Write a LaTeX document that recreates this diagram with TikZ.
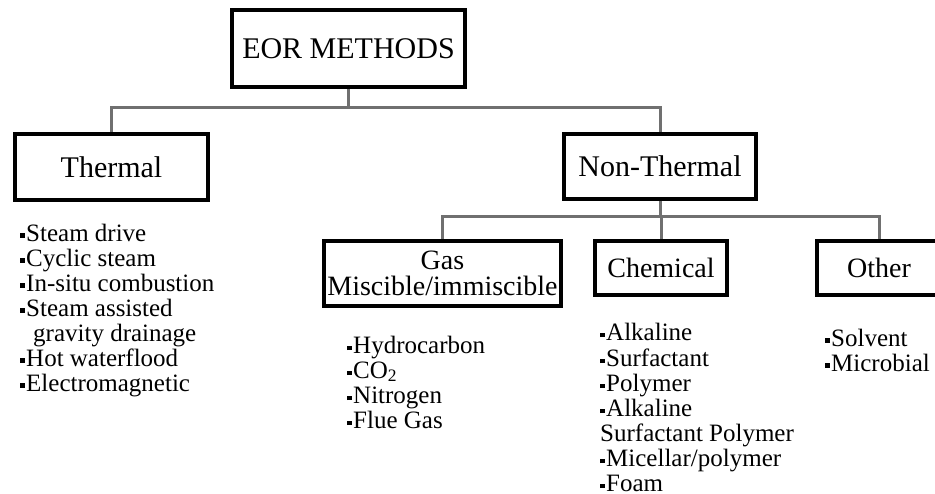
\documentclass[tikz,border=0pt]{standalone}
\usepackage{fontspec}
\setmainfont{Liberation Serif}
\definecolor{linkgray}{RGB}{112,112,112}
\newcommand{\bul}{\rule[3.2pt]{4.5pt}{4.5pt}\hspace{1.5pt}}

\begin{document}
\begin{tikzpicture}[x=1pt, y=-1pt]
\tikzset{methodbox/.style={draw, line width=4pt, minimum width=193pt, minimum height=66pt, inner sep=0pt, font=\fontsize{30}{32}\selectfont}}
\tikzset{subbox/.style={draw, line width=4pt, minimum height=54pt, inner sep=0pt, align=center, font=\fontsize{28}{26}\selectfont}}
\tikzset{itemlist/.style={anchor=north west, inner sep=0pt, align=left, font=\fontsize{25}{25}\selectfont}}
\tikzset{link/.style={draw=linkgray, line width=3pt}}
\clip (0, 0) rectangle (935, 494);
\useasboundingbox (0, 0) rectangle (935, 494);
\node[methodbox, minimum width=233pt, minimum height=77pt] (EOR) at (348.5, 48.5) {EOR METHODS};
\node[methodbox] (THERM) at (111.5, 167) {Thermal};
\node[methodbox, minimum width=192pt, minimum height=65pt] (NONTH) at (660, 166.5) {Non-Thermal};
\node[subbox, minimum width=237pt, minimum height=65pt] (GAS) at (442.5, 273.5) {Gas\\Miscible/immiscible};
\node[subbox, minimum width=132pt] (CHEM) at (661, 268) {Chemical};
\node[subbox, minimum width=124pt] (OTHER) at (879, 268) {Other};
\coordinate (BUS1) at (0, 108);
\coordinate (BUS2) at (0, 217);
\draw[link] (EOR.south) -- (EOR.south |- BUS1) -| (THERM.north);
\draw[link] (EOR.south) -- (EOR.south |- BUS1) -| (NONTH.north);
\draw[link] (NONTH.south) -- (NONTH.south |- BUS2) -| (GAS.north);
\draw[link] (NONTH.south) -- (NONTH.south |- BUS2) -| (CHEM.north);
\draw[link] (NONTH.south) -- (NONTH.south |- BUS2) -| (OTHER.north);
\node[itemlist] (THLIST) at (20, 223.5) {\strut\bul Steam drive\\\bul Cyclic steam\\\bul In-situ combustion\\\bul Steam assisted\\\hspace*{13pt}gravity drainage\\\bul Hot waterflood\\\bul Electromagnetic};
\node[itemlist] (GASLIST) at (347, 335.5) {\strut\bul Hydrocarbon\\\bul CO\textsubscript{2}\\\bul Nitrogen\\\bul Flue Gas};
\node[itemlist] (CHEMLIST) at (600, 322.5) {\strut\bul Alkaline\\\bul Surfactant\\\bul Polymer\\\bul Alkaline\\Surfactant Polymer\\\bul Micellar/polymer\\\bul Foam};
\node[itemlist] (OTHLIST) at (825, 328.5) {\strut\bul Solvent\\\bul Microbial};
\end{tikzpicture}
\end{document}
